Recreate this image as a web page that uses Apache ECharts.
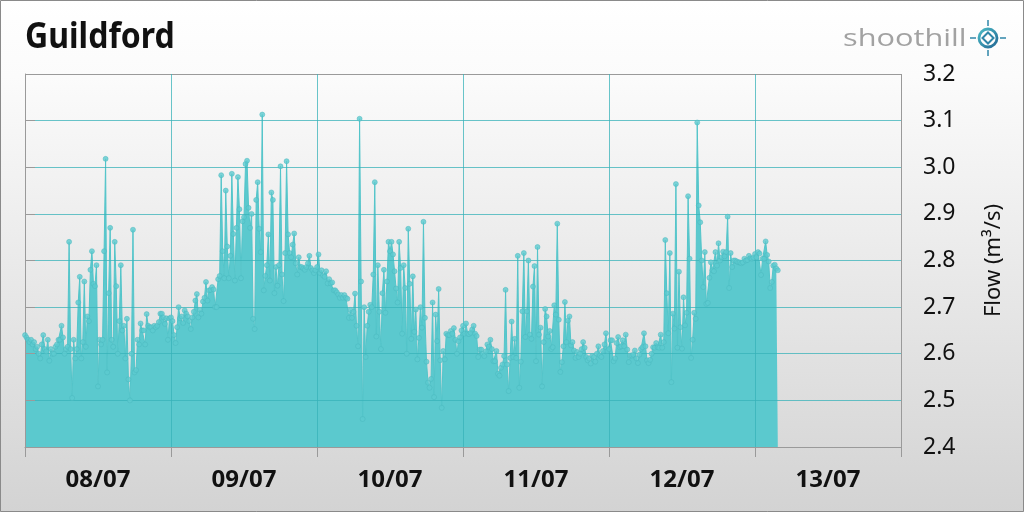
<!DOCTYPE html>
<html>
<head>
<meta charset="utf-8">
<script src="https://cdn.jsdelivr.net/npm/echarts@6/dist/echarts.min.js"></script>
<style>
html,body{margin:0;padding:0;}
#c{width:1024px;height:512px;background:linear-gradient(to bottom,#ffffff 0%,#fbfbfb 15%,#d3d3d3 100%);}
</style>
</head>
<body>
<div id="c"></div>
<script>
// Flow readings every 15 minutes starting 08/07 00:00 (m³/s)
const stepHours = 0.25;
const flowValues = [
2.64,2.635,2.63,2.625,2.63,2.62,2.625,2.61,2.615,2.60,
2.59,2.62,2.64,2.61,2.605,2.63,2.585,2.61,2.60,2.60,
2.615,2.62,2.63,2.63,2.66,2.635,2.60,2.61,2.615,2.84,
2.61,2.505,2.63,2.59,2.61,2.71,2.765,2.59,2.625,2.755,
2.615,2.68,2.67,2.78,2.82,2.75,2.745,2.79,2.53,2.63,
2.62,2.63,2.82,3.018,2.56,2.73,2.87,2.63,2.615,2.84,
2.745,2.60,2.67,2.79,2.65,2.66,2.59,2.675,2.545,2.50,
2.60,2.866,2.56,2.565,2.63,2.62,2.665,2.65,2.65,2.62,
2.685,2.66,2.657,2.657,2.65,2.66,2.657,2.66,2.668,2.686,
2.686,2.678,2.664,2.676,2.63,2.676,2.678,2.67,2.64,2.623,
2.657,2.70,2.676,2.68,2.666,2.693,2.686,2.68,2.67,2.653,
2.678,2.69,2.714,2.728,2.678,2.694,2.686,2.712,2.72,2.754,
2.714,2.736,2.737,2.743,2.738,2.70,2.70,2.76,2.767,2.983,
2.82,2.762,2.95,2.83,2.762,2.81,2.986,2.857,2.757,2.87,
2.979,2.91,2.762,2.884,2.893,3.007,3.014,2.913,2.87,2.90,
2.675,2.653,2.93,2.968,2.868,2.818,3.113,2.736,2.767,2.79,
2.856,2.757,2.946,2.93,2.73,2.786,2.746,2.79,3.002,2.77,
2.713,2.816,3.013,2.856,2.816,2.807,2.834,2.858,2.794,2.77,
2.807,2.786,2.786,2.783,2.78,2.786,2.794,2.81,2.784,2.779,
2.773,2.779,2.786,2.813,2.773,2.779,2.768,2.765,2.777,2.751,
2.76,2.751,2.753,2.736,2.736,2.732,2.727,2.72,2.726,2.72,
2.726,2.72,2.718,2.677,2.694,2.677,2.69,2.729,2.66,2.616,
3.104,2.755,2.46,2.70,2.593,2.66,2.69,2.705,2.70,2.77,
2.968,2.637,2.79,2.69,2.61,2.73,2.78,2.688,2.755,2.84,
2.82,2.84,2.813,2.777,2.74,2.71,2.84,2.784,2.643,2.79,
2.741,2.60,2.868,2.75,2.632,2.766,2.647,2.695,2.588,2.634,
2.70,2.656,2.883,2.677,2.583,2.538,2.527,2.546,2.71,2.507,
2.684,2.627,2.739,2.586,2.484,2.606,2.588,2.643,2.64,2.64,
2.649,2.643,2.655,2.63,2.60,2.627,2.635,2.65,2.66,2.643,
2.665,2.643,2.642,2.645,2.652,2.66,2.643,2.638,2.593,2.609,
2.609,2.60,2.595,2.605,2.62,2.615,2.63,2.61,2.584,2.584,
2.606,2.557,2.553,2.57,2.577,2.595,2.737,2.577,2.52,2.591,
2.669,2.593,2.632,2.591,2.81,2.527,2.583,2.691,2.816,2.636,
2.691,2.80,2.641,2.632,2.744,2.788,2.584,2.829,2.641,2.656,
2.53,2.625,2.696,2.68,2.637,2.649,2.61,2.614,2.704,2.684,
2.879,2.673,2.561,2.582,2.616,2.711,2.625,2.671,2.68,2.618,
2.625,2.607,2.591,2.604,2.593,2.60,2.61,2.625,2.613,2.593,
2.586,2.59,2.579,2.595,2.593,2.583,2.60,2.616,2.596,2.593,
2.606,2.62,2.644,2.606,2.61,2.629,2.629,2.584,2.59,2.623,
2.636,2.614,2.616,2.629,2.616,2.641,2.609,2.582,2.596,2.596,
2.598,2.607,2.59,2.58,2.598,2.61,2.614,2.644,2.616,2.586,
2.58,2.587,2.60,2.614,2.613,2.623,2.614,2.613,2.641,2.613,
2.625,2.844,2.73,2.644,2.816,2.539,2.686,2.654,2.964,2.613,
2.776,2.657,2.611,2.721,2.661,2.688,2.938,2.804,2.591,2.63,
2.688,2.675,3.096,2.918,2.882,2.80,2.743,2.818,2.707,2.709,
2.763,2.796,2.779,2.777,2.818,2.789,2.837,2.80,2.807,2.819,
2.809,2.818,2.894,2.741,2.816,2.786,2.80,2.80,2.798,2.796,
2.796,2.794,2.796,2.804,2.80,2.801,2.81,2.805,2.804,2.806,
2.814,2.807,2.818,2.815,2.769,2.804,2.804,2.841,2.812,2.798,
2.741,2.754,2.789,2.791,2.783,2.779
];
const dayLabels = ['08/07','09/07','10/07','11/07','12/07','13/07'];
const yMin = 2.4, yMax = 3.2, yStep = 0.1;
const xMinHours = 0, xMaxHours = 144, xStepHours = 24;

const seriesData = flowValues.map((v, i) => [i * stepHours, v]);
const teal = 'rgba(55,178,184,0.75)';
const frame = '#9a9a9a';

const chart = echarts.init(document.getElementById('c'), null, {renderer: 'canvas'});
chart.setOption({
  animation: false,
  backgroundColor: 'transparent',
  textStyle: {fontFamily: 'Noto Sans'},
  grid: {left: 25, right: 123, top: 74, bottom: 65, containLabel: false},
  xAxis: [{
    type: 'value', min: xMinHours, max: xMaxHours, interval: xStepHours, z: 3,
    axisLine: {show: true, lineStyle: {color: frame, width: 1}},
    axisTick: {show: true, length: 10, lineStyle: {color: frame}},
    axisLabel: {show: false},
    splitLine: {show: true, lineStyle: {color: [frame, teal, teal, teal, teal, teal, frame], width: 1}}
  }, {
    type: 'category', data: dayLabels, boundaryGap: true, position: 'bottom', z: 3,
    axisLine: {show: false}, axisTick: {show: false}, splitLine: {show: false},
    axisLabel: {show: true, margin: 21, fontSize: 24, fontWeight: 'bold', color: '#111', fontFamily: 'Noto Sans'}
  }],
  yAxis: {
    type: 'value', position: 'right', min: yMin, max: yMax, interval: yStep, z: 3,
    axisLine: {show: true, lineStyle: {color: frame, width: 1}},
    axisTick: {show: true, length: 10, lineStyle: {color: frame}},
    axisLabel: {margin: 22, fontSize: 23, color: '#111', fontFamily: 'Noto Sans',
      formatter: v => v.toFixed(1)},
    splitLine: {show: true, lineStyle: {color: [frame, teal, teal, teal, teal, teal, teal, teal, frame], width: 1}},
    name: 'Flow (m³/s)', nameLocation: 'middle', nameGap: 82, nameRotate: 90,
    nameTextStyle: {fontSize: 22, color: '#111', fontFamily: 'Noto Sans'}
  },
  series: [{
    type: 'line', data: seriesData, xAxisIndex: 0, z: 2,
    showSymbol: false, symbol: 'none',
    lineStyle: {color: '#52c4c9', width: 1},
    areaStyle: {color: '#5bc9ce', opacity: 1}
  }, {
    type: 'scatter', data: seriesData, xAxisIndex: 0, z: 4,
    symbol: 'circle', symbolSize: 5,
    itemStyle: {color: '#5ccbd0', borderColor: '#49b8bd', borderWidth: 0.6}
  }],
  graphic: [
    {type: 'text', x: 25, y: 38, scaleX: 0.89, originX: 0, originY: 0,
      style: {text: 'Guildford', fontSize: 36, fontWeight: 'bold', fill: '#111', fontFamily: 'Noto Sans', verticalAlign: 'middle'}},
    {type: 'text', x: 843, y: 39, scaleX: 1.28, originX: 0, originY: 0,
      style: {text: 'shoothill', fontSize: 24, fill: '#a2a2a2', fontFamily: 'Open Sans', verticalAlign: 'middle'}},
    {type: 'circle', shape: {cx: 988, cy: 38, r: 9}, style: {fill: 'none', lineWidth: 2.8,
      stroke: {type: 'linear', x: 0, y: 0, x2: 1, y2: 1, colorStops: [{offset: 0, color: '#4fc6cc'}, {offset: 1, color: '#1f5d8e'}]}}},
    {type: 'polygon', shape: {points: [[988, 32.5], [993.5, 38], [988, 43.5], [982.5, 38]]}, style: {fill: 'none', stroke: '#2f86a8', lineWidth: 2}},
    {type: 'line', shape: {x1: 988, y1: 20, x2: 988, y2: 26}, style: {stroke: '#2f86a8', lineWidth: 1.5}},
    {type: 'line', shape: {x1: 988, y1: 50, x2: 988, y2: 56}, style: {stroke: '#2f86a8', lineWidth: 1.5}},
    {type: 'line', shape: {x1: 970, y1: 38, x2: 976, y2: 38}, style: {stroke: '#2f86a8', lineWidth: 1.5}},
    {type: 'line', shape: {x1: 1000, y1: 38, x2: 1006, y2: 38}, style: {stroke: '#2f86a8', lineWidth: 1.5}},
    {type: 'rect', shape: {x: 0.5, y: 0.5, width: 1023, height: 511}, style: {fill: 'none', stroke: '#8a8a8a', lineWidth: 1}}
  ]
});
</script>
</body>
</html>
